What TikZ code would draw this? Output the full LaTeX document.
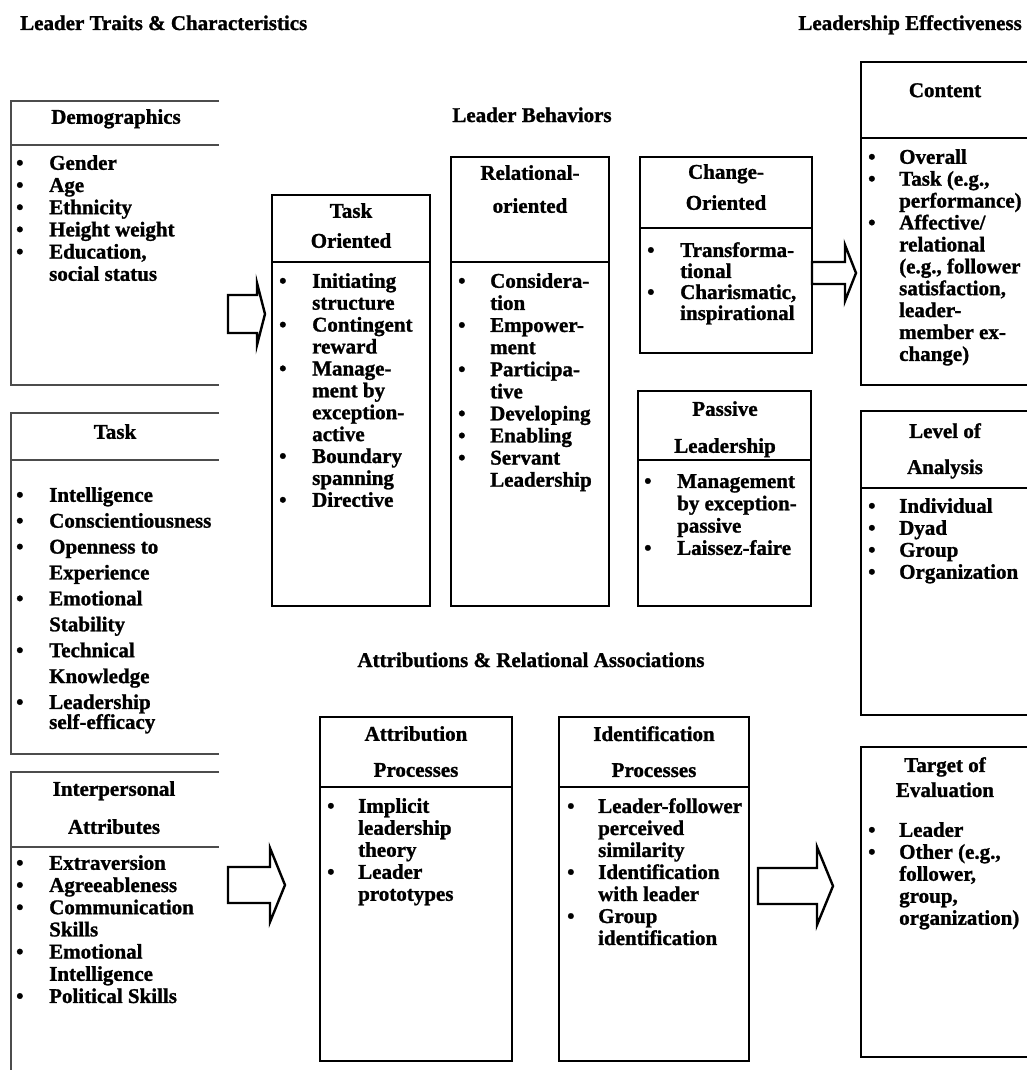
\documentclass[tikz,border=0pt]{standalone}
\usepackage{fontspec}
\setmainfont{Liberation Serif}[BoldFeatures={FakeBold=1.2}]
\usetikzlibrary{calc}

% bullet column width, set per box
\newlength\bgap
\newcommand\itm[1]{\makebox[\bgap][l]{\textbullet}#1}
\newcommand\cnt[1]{\hspace*{\bgap}#1}

\tikzset{
    frame/.style={draw=black, line width=1.8pt},
    sideframe/.style={draw=black!70, line width=1.6pt},
    bigarrow/.style={draw=black, line width=2.4pt, fill=white, line join=miter},
    headtxt/.style={anchor=north, inner sep=0pt, align=center},
    listtxt/.style={anchor=north west, inner sep=0pt, align=left},
    titletxt/.style={inner sep=0pt, font=\bfseries\fontsize{21}{24}\selectfont}
}

\begin{document}
\begin{tikzpicture}[x=1pt, y=-1pt]

\useasboundingbox[fill=white] (0,0) rectangle (1027,1070);

% Helper macros
% Arguments: name, x, y-top, line skip, text
\def\boxhead#1#2#3#4#5{
    \node[headtxt, font=\bfseries\fontsize{21}{#4}\selectfont] (#1) at (#2,#3) {#5};
}
% Arguments: name, x, y-top, bullet gap, line skip, items
\def\boxlist#1#2#3#4#5#6{
    \setlength\bgap{#4pt}
    \node[listtxt, font=\bfseries\fontsize{21}{#5}\selectfont] (#1) at (#2,#3) {#6};
}
% Arguments: tail x, head x, tip x, centre y, shaft half, head half
\def\fatarrow#1#2#3#4#5#6{
    \draw[bigarrow] (#1,#4-#5) -- (#2,#4-#5) -- (#2,#4-#6) -- (#3,#4)
        -- (#2,#4+#6) -- (#2,#4+#5) -- (#1,#4+#5) -- cycle;
}

% Column titles
\node[titletxt, anchor=base west] (traits) at (20,30) {Leader Traits \& Characteristics};
\node[titletxt, anchor=base east] (effect) at (1022,30) {Leadership Effectiveness};
\node[titletxt, anchor=base] (behav) at (532,122) {Leader Behaviors};
\node[titletxt, anchor=base] (attrib) at (531,667) {Attributions \& Relational Associations};

% Left column frames (open on the right)
\draw[sideframe] (219,101) -- (11,101) -- (11,385) -- (219,385);
\draw[sideframe] (11,145) -- (219,145);
\draw[sideframe] (219,413) -- (11,413) -- (11,754) -- (219,754);
\draw[sideframe] (11,460) -- (219,460);
\draw[sideframe] (219,772) -- (11,772) -- (11,1070);
\draw[sideframe] (11,847) -- (219,847);

% Behavior frames
\draw[frame] (272,195) rectangle (430,606);
\draw[frame] (272,262) -- (430,262);
\draw[frame] (451,157) rectangle (609,606);
\draw[frame] (451,262) -- (609,262);
\draw[frame] (640,157) rectangle (812,353);
\draw[frame] (640,228) -- (812,228);
\draw[frame] (638,391) rectangle (811,606);
\draw[frame] (638,460) -- (811,460);

% Attribution frames
\draw[frame] (320,717) rectangle (512,1061);
\draw[frame] (320,787) -- (512,787);
\draw[frame] (559,717) rectangle (749,1061);
\draw[frame] (559,787) -- (749,787);

% Right column frames
\draw[frame] (1027,62) -- (861,62) -- (861,385) -- (1027,385);
\draw[frame] (861,138) -- (1027,138);
\draw[frame] (1027,411) -- (861,411) -- (861,715) -- (1027,715);
\draw[frame] (861,488) -- (1027,488);
\draw[frame] (1027,747) -- (861,747) -- (861,1057) -- (1027,1057);

% Demographics
\boxhead{demh}{116}{109}{24}{Demographics}
\boxlist{deml}{16}{155}{33}{22.2}{\itm{Gender}\\ \itm{Age}\\ \itm{Ethnicity}\\
    \itm{Height weight}\\ \itm{Education,}\\ \cnt{social status}}

% Task
\boxhead{taskh}{115}{424}{24}{Task}
\boxlist{taskl}{16}{487}{33}{25.9}{\itm{Intelligence}\\ \itm{Conscientiousness}\\
    \itm{Openness to}\\ \cnt{Experience}\\ \itm{Emotional}\\ \cnt{Stability}\\
    \itm{Technical}\\ \cnt{Knowledge}\\ \itm{Leadership}\\[-6pt] \cnt{self-efficacy}}

% Interpersonal
\boxhead{interh}{114}{781}{38}{Interpersonal\\ Attributes}
\boxlist{interl}{16}{855}{33}{22.2}{\itm{Extraversion}\\ \itm{Agreeableness}\\
    \itm{Communication}\\ \cnt{Skills}\\ \itm{Emotional}\\ \cnt{Intelligence}\\
    \itm{Political Skills}}

% Task oriented
\boxhead{toh}{351}{203}{30}{Task\\ Oriented}
\boxlist{tol}{279}{273}{33}{21.9}{\itm{Initiating}\\ \cnt{structure}\\
    \itm{Contingent}\\ \cnt{reward}\\ \itm{Manage-}\\ \cnt{ment by}\\
    \cnt{exception-}\\ \cnt{active}\\ \itm{Boundary}\\ \cnt{spanning}\\
    \itm{Directive}}

% Relational oriented
\boxhead{relh}{530}{165}{33}{Relational-\\ oriented}
\boxlist{rell}{458}{273}{32}{22.1}{\itm{Considera-}\\ \cnt{tion}\\
    \itm{Empower-}\\ \cnt{ment}\\ \itm{Participa-}\\ \cnt{tive}\\
    \itm{Developing}\\ \itm{Enabling}\\ \itm{Servant}\\ \cnt{Leadership}}

% Change oriented
\boxhead{chgh}{726}{164}{31}{Change-\\ Oriented}
\boxlist{chgl}{647}{242}{33}{21}{\itm{Transforma-}\\ \cnt{tional}\\
    \itm{Charismatic,}\\ \cnt{inspirational}}

% Passive
\boxhead{pash}{725}{401}{37}{Passive\\ Leadership}
\boxlist{pasl}{644}{474}{33}{22.3}{\itm{Management}\\ \cnt{by exception-}\\
    \cnt{passive}\\ \itm{Laissez-faire}}

% Attribution processes
\boxhead{atth}{416}{726}{36}{Attribution\\ Processes}
\boxlist{attl}{327}{798}{31}{22}{\itm{Implicit}\\ \cnt{leadership}\\
    \cnt{theory}\\ \itm{Leader}\\ \cnt{prototypes}}

% Identification processes
\boxhead{idh}{654}{726}{36}{Identification\\ Processes}
\boxlist{idl}{567}{798}{31}{22}{\itm{Leader-follower}\\ \cnt{perceived}\\
    \cnt{similarity}\\ \itm{Identification}\\ \cnt{with leader}\\
    \itm{Group}\\ \cnt{identification}}

% Content
\boxhead{conh}{945}{83}{24}{Content}
\boxlist{conl}{868}{149}{31}{21.9}{\itm{Overall}\\ \itm{Task (e.g.,}\\
    \cnt{performance)}\\ \itm{Affective/}\\ \cnt{relational}\\
    \cnt{(e.g., follower}\\ \cnt{satisfaction,}\\ \cnt{leader-}\\
    \cnt{member ex-}\\ \cnt{change)}}

% Level of analysis
\boxhead{levh}{945}{423}{36}{Level of\\ Analysis}
\boxlist{levl}{868}{498}{31}{22}{\itm{Individual}\\ \itm{Dyad}\\
    \itm{Group}\\ \itm{Organization}}

% Target of evaluation
\boxhead{tgth}{945}{757}{25}{Target of\\ Evaluation}
\boxlist{tgtl}{868}{822}{31}{22}{\itm{Leader}\\ \itm{Other (e.g.,}\\
    \cnt{follower,}\\ \cnt{group,}\\ \cnt{organization)}}

% Block arrows
\fatarrow{228}{257}{265}{314}{19}{31}
\fatarrow{812}{845}{856}{273}{11}{28}
\fatarrow{228}{270}{285}{885}{18}{37}
\fatarrow{758}{817}{833}{886}{18}{39}

\end{tikzpicture}
\end{document}
